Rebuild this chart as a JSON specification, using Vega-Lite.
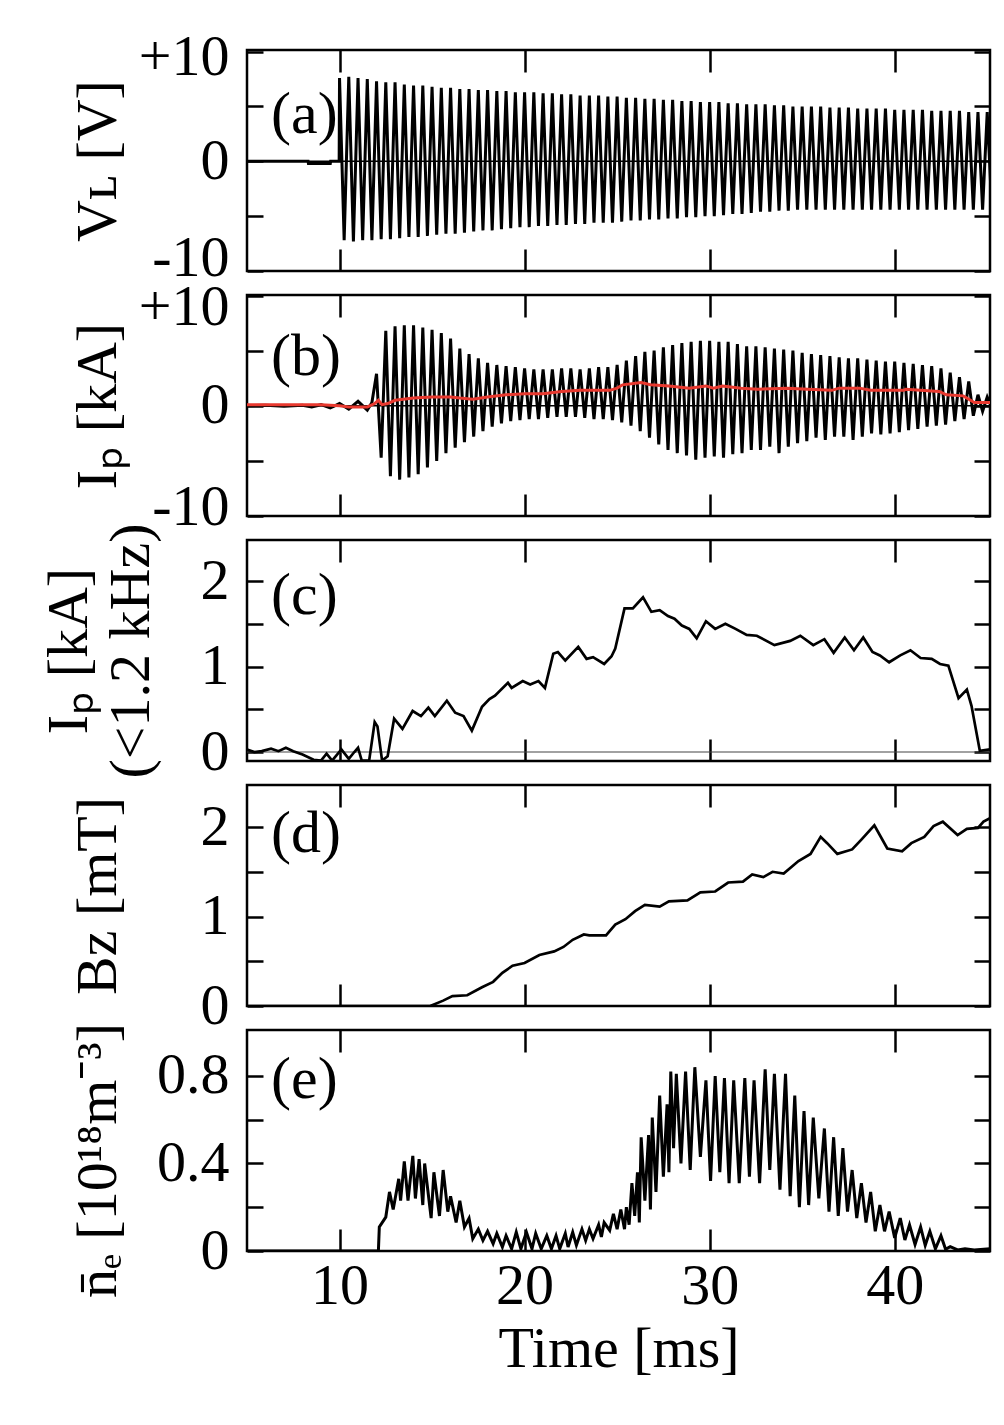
{
  "$schema": "https://vega.github.io/schema/vega-lite/v6.json",
  "background": "white",
  "padding": {"left": 38, "top": 27, "right": 0, "bottom": 0},
  "datasets": {
    "a": [
      {"t":5,"v":0},{"t":8.3,"v":0},{"t":8.32,"v":-0.2},{"t":9.5,"v":-0.2},{"t":9.52,"v":0},{"t":9.98,"v":0},
      {"t":10,"v":7.6},{"t":10.25,"v":-7.2},{"t":10.5,"v":7.7},{"t":10.75,"v":-7.3},{"t":11,"v":7.6},{"t":11.25,"v":-7.2},{"t":11.5,"v":7.5},{"t":11.75,"v":-7.2},
      {"t":12,"v":7.3},{"t":12.25,"v":-7.1},{"t":12.5,"v":7.2},{"t":12.75,"v":-7.1},{"t":13,"v":7.2},{"t":13.25,"v":-7.0},{"t":13.5,"v":7.0},{"t":13.75,"v":-6.9},
      {"t":14,"v":6.9},{"t":14.25,"v":-6.9},{"t":14.5,"v":6.9},{"t":14.75,"v":-6.8},{"t":15,"v":6.8},{"t":15.25,"v":-6.7},{"t":15.5,"v":6.7},{"t":15.75,"v":-6.6},
      {"t":16,"v":6.7},{"t":16.25,"v":-6.6},{"t":16.5,"v":6.6},{"t":16.75,"v":-6.5},{"t":17,"v":6.6},{"t":17.25,"v":-6.4},{"t":17.5,"v":6.5},{"t":17.75,"v":-6.3},
      {"t":18,"v":6.5},{"t":18.25,"v":-6.3},{"t":18.5,"v":6.4},{"t":18.75,"v":-6.2},{"t":19,"v":6.4},{"t":19.25,"v":-6.1},{"t":19.5,"v":6.3},{"t":19.75,"v":-6.0},
      {"t":20,"v":6.3},{"t":20.25,"v":-6.0},{"t":20.5,"v":6.3},{"t":20.75,"v":-5.9},{"t":21,"v":6.2},{"t":21.25,"v":-5.9},{"t":21.5,"v":6.2},{"t":21.75,"v":-5.8},
      {"t":22,"v":6.1},{"t":22.25,"v":-5.8},{"t":22.5,"v":6.1},{"t":22.75,"v":-5.7},{"t":23,"v":6.0},{"t":23.25,"v":-5.7},{"t":23.5,"v":6.0},{"t":23.75,"v":-5.6},
      {"t":24,"v":6.0},{"t":24.25,"v":-5.6},{"t":24.5,"v":5.9},{"t":24.75,"v":-5.6},{"t":25,"v":5.9},{"t":25.25,"v":-5.5},{"t":25.5,"v":5.8},{"t":25.75,"v":-5.4},
      {"t":26,"v":5.8},{"t":26.25,"v":-5.4},{"t":26.5,"v":5.7},{"t":26.75,"v":-5.3},{"t":27,"v":5.7},{"t":27.25,"v":-5.3},{"t":27.5,"v":5.6},{"t":27.75,"v":-5.2},
      {"t":28,"v":5.6},{"t":28.25,"v":-5.2},{"t":28.5,"v":5.5},{"t":28.75,"v":-5.1},{"t":29,"v":5.5},{"t":29.25,"v":-5.1},{"t":29.5,"v":5.4},{"t":29.75,"v":-5.0},
      {"t":30,"v":5.4},{"t":30.25,"v":-5.0},{"t":30.5,"v":5.4},{"t":30.75,"v":-4.9},{"t":31,"v":5.3},{"t":31.25,"v":-4.8},{"t":31.5,"v":5.3},{"t":31.75,"v":-4.8},
      {"t":32,"v":5.2},{"t":32.25,"v":-4.7},{"t":32.5,"v":5.2},{"t":32.75,"v":-4.6},{"t":33,"v":5.2},{"t":33.25,"v":-4.6},{"t":33.5,"v":5.1},{"t":33.75,"v":-4.5},
      {"t":34,"v":5.1},{"t":34.25,"v":-4.5},{"t":34.5,"v":5.0},{"t":34.75,"v":-4.4},{"t":35,"v":5.0},{"t":35.25,"v":-4.4},{"t":35.5,"v":5.0},{"t":35.75,"v":-4.4},
      {"t":36,"v":5.0},{"t":36.25,"v":-4.4},{"t":36.5,"v":4.9},{"t":36.75,"v":-4.4},{"t":37,"v":4.9},{"t":37.25,"v":-4.4},{"t":37.5,"v":4.9},{"t":37.75,"v":-4.4},
      {"t":38,"v":4.8},{"t":38.25,"v":-4.4},{"t":38.5,"v":4.8},{"t":38.75,"v":-4.4},{"t":39,"v":4.8},{"t":39.25,"v":-4.4},{"t":39.5,"v":4.8},{"t":39.75,"v":-4.4},
      {"t":40,"v":4.7},{"t":40.25,"v":-4.4},{"t":40.5,"v":4.7},{"t":40.75,"v":-4.4},{"t":41,"v":4.7},{"t":41.25,"v":-4.4},{"t":41.5,"v":4.7},{"t":41.75,"v":-4.4},
      {"t":42,"v":4.6},{"t":42.25,"v":-4.4},{"t":42.5,"v":4.6},{"t":42.75,"v":-4.4},{"t":43,"v":4.6},{"t":43.25,"v":-4.4},{"t":43.5,"v":4.6},{"t":43.75,"v":-4.4},
      {"t":44,"v":4.5},{"t":44.25,"v":-4.4},{"t":44.5,"v":4.5},{"t":44.75,"v":-4.4},{"t":45,"v":4.5},{"t":45.25,"v":-4.4}
    ],
    "b": [
      {"t":5,"v":0},{"t":6,"v":0.05},{"t":7,"v":-0.05},{"t":8,"v":0.05},{"t":8.5,"v":-0.1},{"t":9,"v":0.1},{"t":9.5,"v":-0.2},{"t":10,"v":0.2},
      {"t":10.5,"v":-0.3},{"t":11,"v":0.4},{"t":11.5,"v":-0.4},{"t":11.75,"v":0.3},
      {"t":12,"v":2.9},{"t":12.25,"v":-4.7},{"t":12.5,"v":6.8},{"t":12.75,"v":-6.4},{"t":13,"v":7.2},{"t":13.25,"v":-6.7},{"t":13.5,"v":7.3},{"t":13.75,"v":-6.5},
      {"t":14,"v":7.3},{"t":14.25,"v":-6.2},{"t":14.5,"v":7.1},{"t":14.75,"v":-5.6},{"t":15,"v":6.9},{"t":15.25,"v":-5.0},{"t":15.5,"v":6.6},{"t":15.75,"v":-4.3},
      {"t":16,"v":6.1},{"t":16.25,"v":-3.8},{"t":16.5,"v":5.2},{"t":16.75,"v":-3.3},{"t":17,"v":4.7},{"t":17.25,"v":-2.8},{"t":17.5,"v":4.3},{"t":17.75,"v":-2.3},
      {"t":18,"v":3.9},{"t":18.25,"v":-1.9},{"t":18.5,"v":3.7},{"t":18.75,"v":-1.6},{"t":19,"v":3.6},{"t":19.25,"v":-1.4},{"t":19.5,"v":3.5},{"t":19.75,"v":-1.3},
      {"t":20,"v":3.4},{"t":20.25,"v":-1.2},{"t":20.5,"v":3.3},{"t":20.75,"v":-1.2},{"t":21,"v":3.3},{"t":21.25,"v":-1.1},{"t":21.5,"v":3.3},{"t":21.75,"v":-1.0},
      {"t":22,"v":3.4},{"t":22.25,"v":-1.0},{"t":22.5,"v":3.4},{"t":22.75,"v":-1.0},{"t":23,"v":3.3},{"t":23.25,"v":-1.1},{"t":23.5,"v":3.4},{"t":23.75,"v":-1.2},
      {"t":24,"v":3.5},{"t":24.25,"v":-1.2},{"t":24.5,"v":3.5},{"t":24.75,"v":-1.3},{"t":25,"v":3.7},{"t":25.25,"v":-1.5},{"t":25.5,"v":4.1},{"t":25.75,"v":-1.8},
      {"t":26,"v":4.5},{"t":26.25,"v":-2.3},{"t":26.5,"v":4.9},{"t":26.75,"v":-2.9},{"t":27,"v":5.0},{"t":27.25,"v":-3.5},{"t":27.5,"v":5.3},{"t":27.75,"v":-4.0},
      {"t":28,"v":5.5},{"t":28.25,"v":-4.3},{"t":28.5,"v":5.7},{"t":28.75,"v":-4.5},{"t":29,"v":5.8},{"t":29.25,"v":-4.9},{"t":29.5,"v":5.9},{"t":29.75,"v":-4.7},
      {"t":30,"v":5.9},{"t":30.25,"v":-4.6},{"t":30.5,"v":5.8},{"t":30.75,"v":-4.7},{"t":31,"v":5.8},{"t":31.25,"v":-4.4},{"t":31.5,"v":5.6},{"t":31.75,"v":-4.3},
      {"t":32,"v":5.4},{"t":32.25,"v":-4.0},{"t":32.5,"v":5.4},{"t":32.75,"v":-4.0},{"t":33,"v":5.3},{"t":33.25,"v":-3.7},{"t":33.5,"v":5.2},{"t":33.75,"v":-4.3},
      {"t":34,"v":5.1},{"t":34.25,"v":-3.7},{"t":34.5,"v":5.0},{"t":34.75,"v":-3.4},{"t":35,"v":4.8},{"t":35.25,"v":-3.2},{"t":35.5,"v":4.7},{"t":35.75,"v":-2.9},
      {"t":36,"v":4.6},{"t":36.25,"v":-3.1},{"t":36.5,"v":4.5},{"t":36.75,"v":-2.8},{"t":37,"v":4.4},{"t":37.25,"v":-2.8},{"t":37.5,"v":4.3},{"t":37.75,"v":-3.1},
      {"t":38,"v":4.3},{"t":38.25,"v":-2.8},{"t":38.5,"v":4.2},{"t":38.75,"v":-2.5},{"t":39,"v":4.1},{"t":39.25,"v":-2.6},{"t":39.5,"v":4.0},{"t":39.75,"v":-2.5},
      {"t":40,"v":4.0},{"t":40.25,"v":-2.4},{"t":40.5,"v":3.9},{"t":40.75,"v":-2.2},{"t":41,"v":3.8},{"t":41.25,"v":-2.1},{"t":41.5,"v":3.7},{"t":41.75,"v":-1.9},
      {"t":42,"v":3.6},{"t":42.25,"v":-1.8},{"t":42.5,"v":3.4},{"t":42.75,"v":-1.7},{"t":43,"v":3.0},{"t":43.25,"v":-1.4},{"t":43.5,"v":2.6},{"t":43.75,"v":-1.2},
      {"t":44,"v":2.2},{"t":44.25,"v":-0.9},{"t":44.5,"v":1.0},{"t":44.75,"v":-0.5},{"t":45,"v":0.8},{"t":45.15,"v":0.2}
    ],
    "br": [
      {"t":5,"v":0.1},{"t":9,"v":0.1},{"t":10,"v":0.0},{"t":10.5,"v":-0.1},{"t":11.5,"v":-0.1},{"t":11.9,"v":0.2},{"t":12.1,"v":0.5},{"t":12.3,"v":0.1},
      {"t":12.6,"v":0.2},{"t":13,"v":0.5},{"t":14,"v":0.7},{"t":15,"v":0.8},{"t":16,"v":0.8},{"t":16.5,"v":0.7},{"t":17.2,"v":0.6},{"t":18,"v":0.8},
      {"t":19,"v":1.0},{"t":20,"v":1.1},{"t":21,"v":1.1},{"t":22,"v":1.3},{"t":23,"v":1.4},{"t":24,"v":1.4},{"t":24.6,"v":1.4},{"t":25,"v":1.6},
      {"t":25.3,"v":1.9},{"t":26.3,"v":2.1},{"t":26.8,"v":1.9},{"t":27.8,"v":1.8},{"t":28.9,"v":1.6},{"t":29.8,"v":1.8},{"t":30.2,"v":1.6},{"t":30.7,"v":1.8},
      {"t":31.7,"v":1.6},{"t":32.6,"v":1.5},{"t":34.2,"v":1.6},{"t":35.3,"v":1.5},{"t":36.6,"v":1.4},{"t":37,"v":1.6},{"t":38.1,"v":1.6},{"t":38.7,"v":1.4},
      {"t":40.5,"v":1.4},{"t":40.6,"v":1.5},{"t":42.4,"v":1.3},{"t":42.8,"v":1.0},{"t":43.7,"v":0.9},{"t":44.1,"v":0.5},{"t":44.3,"v":0.3},{"t":45.15,"v":0.3}
    ],
    "c": [
      {"t":5,"v":0.03},{"t":5.4,"v":0.0},{"t":5.8,"v":0.01},{"t":6.3,"v":0.04},{"t":6.7,"v":0.01},{"t":7.1,"v":0.05},{"t":7.5,"v":0.01},{"t":8,"v":-0.03},
      {"t":8.6,"v":-0.09},{"t":9,"v":-0.1},{"t":9.3,"v":-0.02},{"t":9.6,"v":-0.1},{"t":10.1,"v":0.03},{"t":10.5,"v":-0.08},{"t":10.8,"v":0.0},{"t":11,"v":0.05},
      {"t":11.2,"v":-0.1},{"t":11.6,"v":-0.1},{"t":11.9,"v":0.35},{"t":12.05,"v":0.3},{"t":12.3,"v":-0.1},{"t":12.6,"v":-0.05},{"t":12.95,"v":0.39},{"t":13.4,"v":0.27},
      {"t":13.95,"v":0.48},{"t":14.4,"v":0.42},{"t":14.8,"v":0.52},{"t":15.15,"v":0.42},{"t":15.8,"v":0.6},{"t":16.25,"v":0.46},{"t":16.7,"v":0.42},{"t":17.15,"v":0.25},
      {"t":17.7,"v":0.53},{"t":18.1,"v":0.62},{"t":18.4,"v":0.66},{"t":19.1,"v":0.81},{"t":19.3,"v":0.75},{"t":19.9,"v":0.83},{"t":20.3,"v":0.79},{"t":20.75,"v":0.83},
      {"t":21.1,"v":0.75},{"t":21.55,"v":1.15},{"t":21.8,"v":1.17},{"t":22.2,"v":1.07},{"t":22.9,"v":1.23},{"t":23.35,"v":1.09},{"t":23.7,"v":1.11},{"t":24.3,"v":1.03},
      {"t":24.7,"v":1.12},{"t":24.9,"v":1.21},{"t":25.4,"v":1.68},{"t":25.85,"v":1.68},{"t":26.4,"v":1.81},{"t":26.85,"v":1.64},{"t":27.3,"v":1.66},{"t":27.75,"v":1.59},
      {"t":28.1,"v":1.56},{"t":28.5,"v":1.48},{"t":28.9,"v":1.44},{"t":29.3,"v":1.33},{"t":29.8,"v":1.53},{"t":30.3,"v":1.44},{"t":30.85,"v":1.5},{"t":31.4,"v":1.44},
      {"t":32,"v":1.37},{"t":32.55,"v":1.36},{"t":33.5,"v":1.25},{"t":34.35,"v":1.3},{"t":34.9,"v":1.36},{"t":35.6,"v":1.25},{"t":36.2,"v":1.32},{"t":36.7,"v":1.16},
      {"t":37.3,"v":1.34},{"t":37.8,"v":1.19},{"t":38.3,"v":1.34},{"t":38.8,"v":1.17},{"t":39.2,"v":1.13},{"t":39.7,"v":1.05},{"t":40.3,"v":1.13},{"t":40.85,"v":1.19},
      {"t":41.4,"v":1.1},{"t":42,"v":1.09},{"t":42.45,"v":1.03},{"t":42.9,"v":1.01},{"t":43.45,"v":0.63},{"t":43.9,"v":0.73},{"t":44.15,"v":0.54},{"t":44.6,"v":0.015},
      {"t":45.15,"v":0.03}
    ],
    "d": [
      {"t":5,"v":0},{"t":14.9,"v":0},{"t":15.6,"v":0.06},{"t":16.1,"v":0.11},{"t":16.9,"v":0.12},{"t":17.7,"v":0.21},{"t":18.3,"v":0.27},{"t":18.8,"v":0.37},
      {"t":19.35,"v":0.45},{"t":20,"v":0.48},{"t":20.8,"v":0.57},{"t":21.6,"v":0.61},{"t":22.1,"v":0.66},{"t":22.6,"v":0.74},{"t":23.2,"v":0.8},{"t":23.5,"v":0.79},
      {"t":24.4,"v":0.79},{"t":24.9,"v":0.91},{"t":25.45,"v":0.97},{"t":25.97,"v":1.06},{"t":26.5,"v":1.13},{"t":27.3,"v":1.11},{"t":27.8,"v":1.17},{"t":28.8,"v":1.18},
      {"t":29.5,"v":1.27},{"t":30.3,"v":1.28},{"t":31,"v":1.38},{"t":31.8,"v":1.39},{"t":32.3,"v":1.47},{"t":32.9,"v":1.44},{"t":33.4,"v":1.5},{"t":34,"v":1.48},
      {"t":34.8,"v":1.62},{"t":35.45,"v":1.7},{"t":36,"v":1.89},{"t":36.35,"v":1.82},{"t":36.9,"v":1.7},{"t":37.7,"v":1.75},{"t":38.2,"v":1.86},{"t":38.9,"v":2.02},
      {"t":39.6,"v":1.76},{"t":40.4,"v":1.73},{"t":40.9,"v":1.82},{"t":41.6,"v":1.89},{"t":42.1,"v":2.01},{"t":42.6,"v":2.06},{"t":43.4,"v":1.91},{"t":43.9,"v":1.98},
      {"t":44.5,"v":1.99},{"t":44.8,"v":2.06},{"t":45.15,"v":2.1}
    ],
    "e": [
      {"t":5,"v":0},{"t":12.1,"v":0},{"t":12.15,"v":0.11},{"t":12.5,"v":0.155},{"t":12.7,"v":0.27},{"t":12.9,"v":0.19},{"t":13.2,"v":0.33},{"t":13.3,"v":0.23},
      {"t":13.5,"v":0.41},{"t":13.7,"v":0.23},{"t":13.96,"v":0.435},{"t":14.1,"v":0.24},{"t":14.3,"v":0.42},{"t":14.5,"v":0.21},{"t":14.6,"v":0.4},{"t":14.95,"v":0.15},
      {"t":15.1,"v":0.36},{"t":15.4,"v":0.16},{"t":15.6,"v":0.37},{"t":15.85,"v":0.18},{"t":16,"v":0.25},{"t":16.3,"v":0.13},{"t":16.5,"v":0.23},{"t":16.75,"v":0.11},
      {"t":17,"v":0.15},{"t":17.2,"v":0.056},{"t":17.5,"v":0.1},{"t":17.75,"v":0.048},{"t":18,"v":0.09},{"t":18.3,"v":0.033},{"t":18.5,"v":0.08},{"t":18.8,"v":0.018},
      {"t":19,"v":0.07},{"t":19.3,"v":0.01},{"t":19.55,"v":0.086},{"t":19.8,"v":0.01},{"t":20.1,"v":0.086},{"t":20.4,"v":0.01},{"t":20.6,"v":0.08},{"t":20.9,"v":0.01},
      {"t":21.2,"v":0.07},{"t":21.45,"v":0.01},{"t":21.7,"v":0.07},{"t":21.9,"v":0.01},{"t":22.2,"v":0.08},{"t":22.35,"v":0.018},{"t":22.6,"v":0.086},{"t":22.8,"v":0.026},
      {"t":23.1,"v":0.1},{"t":23.3,"v":0.048},{"t":23.5,"v":0.1},{"t":23.7,"v":0.056},{"t":24,"v":0.12},{"t":24.15,"v":0.064},{"t":24.3,"v":0.13},{"t":24.6,"v":0.094},
      {"t":24.8,"v":0.17},{"t":25,"v":0.1},{"t":25.2,"v":0.19},{"t":25.4,"v":0.1},{"t":25.5,"v":0.2},{"t":25.65,"v":0.12},{"t":25.8,"v":0.31},{"t":25.95,"v":0.16},
      {"t":26.1,"v":0.36},{"t":26.2,"v":0.13},{"t":26.3,"v":0.52},{"t":26.5,"v":0.23},{"t":26.7,"v":0.53},{"t":26.8,"v":0.19},{"t":26.9,"v":0.61},{"t":27.1,"v":0.27},
      {"t":27.3,"v":0.71},{"t":27.5,"v":0.34},{"t":27.7,"v":0.67},{"t":27.8,"v":0.36},{"t":27.9,"v":0.82},{"t":28.05,"v":0.47},{"t":28.2,"v":0.81},{"t":28.45,"v":0.4},
      {"t":28.7,"v":0.82},{"t":28.95,"v":0.37},{"t":29.2,"v":0.84},{"t":29.5,"v":0.43},{"t":29.8,"v":0.78},{"t":30.05,"v":0.32},{"t":30.3,"v":0.8},{"t":30.55,"v":0.36},
      {"t":30.8,"v":0.79},{"t":31.05,"v":0.31},{"t":31.3,"v":0.78},{"t":31.6,"v":0.31},{"t":31.9,"v":0.79},{"t":32.15,"v":0.34},{"t":32.4,"v":0.78},{"t":32.7,"v":0.31},
      {"t":33,"v":0.83},{"t":33.25,"v":0.37},{"t":33.5,"v":0.81},{"t":33.8,"v":0.28},{"t":34.1,"v":0.81},{"t":34.35,"v":0.25},{"t":34.6,"v":0.71},{"t":34.85,"v":0.2},
      {"t":35.1,"v":0.64},{"t":35.35,"v":0.21},{"t":35.6,"v":0.61},{"t":35.9,"v":0.24},{"t":36.2,"v":0.56},{"t":36.45,"v":0.18},{"t":36.7,"v":0.52},{"t":36.95,"v":0.16},
      {"t":37.2,"v":0.47},{"t":37.45,"v":0.18},{"t":37.7,"v":0.37},{"t":37.95,"v":0.15},{"t":38.2,"v":0.31},{"t":38.45,"v":0.13},{"t":38.7,"v":0.27},{"t":38.95,"v":0.09},
      {"t":39.2,"v":0.21},{"t":39.45,"v":0.09},{"t":39.7,"v":0.18},{"t":40,"v":0.06},{"t":40.3,"v":0.15},{"t":40.55,"v":0.05},{"t":40.8,"v":0.12},{"t":41.1,"v":0.03},
      {"t":41.4,"v":0.11},{"t":41.65,"v":0.026},{"t":41.9,"v":0.09},{"t":42.2,"v":0.01},{"t":42.5,"v":0.07},{"t":42.75,"v":0.008},{"t":43,"v":0.02},{"t":43.4,"v":0.005},
      {"t":43.8,"v":0.01},{"t":44.3,"v":0.005},{"t":45.15,"v":0.01}
    ]
  },
  "vconcat": [
    {
      "width": 743, "height": 221,
      "layer": [
        {"data": {"name": "a"}, "mark": {"type": "line", "color": "black", "strokeWidth": 3, "clip": true},
         "encoding": {
           "x": {"field": "t", "type": "quantitative", "scale": {"domain": [5, 45.15], "nice": false, "zero": false},
                 "axis": {"orient": "bottom", "values": [10, 20, 30, 40], "labels": false, "title": null, "tickSize": -22}},
           "y": {"field": "v", "type": "quantitative", "scale": {"domain": [-10, 10.15], "nice": false, "zero": false},
                 "axis": {"orient": "left", "values": [-10, -5, 0, 5, 10], "tickSize": -16, "labelPadding": 34,
                          "labelOffset": {"condition": [{"test": "datum.value == 10", "value": 6}, {"test": "datum.value == -10", "value": -13}], "value": 0},
                          "labelExpr": "datum.value == 10 ? '+10' : datum.value == -10 ? '-10' : datum.value == 0 ? '0' : ''",
                          "title": "Vʟ [V]", "titleX": -132, "titleBaseline": "alphabetic"}}}},
        {"data": {"values": [{}]}, "mark": {"type": "rule", "color": "black", "strokeWidth": 1.5},
         "encoding": {"y": {"datum": 0, "type": "quantitative", "scale": {"domain": [-10, 10.15], "nice": false, "zero": false}, "axis": null}}},
        {"data": {"values": [{}]}, "mark": {"type": "text", "font": "Liberation Serif", "fontSize": 60, "align": "left", "baseline": "middle", "color": "black"},
         "encoding": {
           "x": {"datum": 6.3, "type": "quantitative", "scale": {"domain": [5, 45.15], "nice": false, "zero": false}, "axis": null},
           "y": {"datum": 4.2, "type": "quantitative", "scale": {"domain": [-10, 10.15], "nice": false, "zero": false}, "axis": null},
           "text": {"value": "(a)"}}},
        {"data": {"name": "a"}, "mark": {"type": "point", "opacity": 0},
         "encoding": {
           "x": {"field": "t", "type": "quantitative", "scale": {"domain": [5, 45.15], "nice": false, "zero": false},
                 "axis": {"orient": "top", "values": [10, 20, 30, 40], "labels": false, "title": null, "tickSize": -22}},
           "y": {"field": "v", "type": "quantitative", "scale": {"domain": [-10, 10.15], "nice": false, "zero": false},
                 "axis": {"orient": "right", "values": [-10, -5, 0, 5, 10], "labels": false, "title": null, "tickSize": -16}}}}
      ],
      "resolve": {"axis": {"x": "independent", "y": "independent"}}
    },
    {
      "width": 743, "height": 221,
      "layer": [
        {"data": {"name": "b"}, "mark": {"type": "line", "color": "black", "strokeWidth": 3, "clip": true},
         "encoding": {
           "x": {"field": "t", "type": "quantitative", "scale": {"domain": [5, 45.15], "nice": false, "zero": false},
                 "axis": {"orient": "bottom", "values": [10, 20, 30, 40], "labels": false, "title": null, "tickSize": -22}},
           "y": {"field": "v", "type": "quantitative", "scale": {"domain": [-10, 10.05], "nice": false, "zero": false},
                 "axis": {"orient": "left", "values": [-10, -5, 0, 5, 10], "tickSize": -16, "labelPadding": 34,
                          "labelOffset": {"condition": [{"test": "datum.value == 10", "value": 12}, {"test": "datum.value == -10", "value": -9}], "value": 0},
                          "labelExpr": "datum.value == 10 ? '+10' : datum.value == -10 ? '-10' : datum.value == 0 ? '0' : ''",
                          "title": "Iₚ [kA]", "titleX": -132, "titleBaseline": "alphabetic"}}}},
        {"data": {"values": [{}]}, "mark": {"type": "rule", "color": "black", "strokeWidth": 1.5},
         "encoding": {"y": {"datum": 0, "type": "quantitative", "scale": {"domain": [-10, 10.05], "nice": false, "zero": false}, "axis": null}}},
        {"data": {"name": "br"}, "mark": {"type": "line", "color": "#e8392f", "strokeWidth": 3, "clip": true},
         "encoding": {
           "x": {"field": "t", "type": "quantitative", "scale": {"domain": [5, 45.15], "nice": false, "zero": false}, "axis": null},
           "y": {"field": "v", "type": "quantitative", "scale": {"domain": [-10, 10.05], "nice": false, "zero": false}, "axis": null}}},
        {"data": {"values": [{}]}, "mark": {"type": "text", "font": "Liberation Serif", "fontSize": 60, "align": "left", "baseline": "middle", "color": "black"},
         "encoding": {
           "x": {"datum": 6.3, "type": "quantitative", "scale": {"domain": [5, 45.15], "nice": false, "zero": false}, "axis": null},
           "y": {"datum": 4.4, "type": "quantitative", "scale": {"domain": [-10, 10.05], "nice": false, "zero": false}, "axis": null},
           "text": {"value": "(b)"}}},
        {"data": {"name": "b"}, "mark": {"type": "point", "opacity": 0},
         "encoding": {
           "x": {"field": "t", "type": "quantitative", "scale": {"domain": [5, 45.15], "nice": false, "zero": false},
                 "axis": {"orient": "top", "values": [10, 20, 30, 40], "labels": false, "title": null, "tickSize": -22}},
           "y": {"field": "v", "type": "quantitative", "scale": {"domain": [-10, 10.05], "nice": false, "zero": false},
                 "axis": {"orient": "right", "values": [-10, -5, 0, 5, 10], "labels": false, "title": null, "tickSize": -16}}}}
      ],
      "resolve": {"axis": {"x": "independent", "y": "independent"}}
    },
    {
      "width": 743, "height": 221,
      "layer": [
        {"data": {"values": [{}]}, "mark": {"type": "rule", "color": "#444444", "strokeWidth": 1.2},
         "encoding": {"y": {"datum": 0, "type": "quantitative", "scale": {"domain": [-0.105, 2.48], "nice": false, "zero": false}, "axis": null}}},
        {"data": {"name": "c"}, "mark": {"type": "line", "color": "black", "strokeWidth": 2.7, "clip": true},
         "encoding": {
           "x": {"field": "t", "type": "quantitative", "scale": {"domain": [5, 45.15], "nice": false, "zero": false},
                 "axis": {"orient": "bottom", "values": [10, 20, 30, 40], "labels": false, "title": null, "tickSize": -22}},
           "y": {"field": "v", "type": "quantitative", "scale": {"domain": [-0.105, 2.48], "nice": false, "zero": false},
                 "axis": {"orient": "left", "values": [0, 0.5, 1, 1.5, 2], "tickSize": -16, "labelPadding": 34,
                          "labelExpr": "datum.value == 0 ? '0' : datum.value == 1 ? '1' : datum.value == 2 ? '2' : ''",
                          "title": ["Iₚ [kA]", "(<1.2 kHz)"], "titleX": -161, "titleLineHeight": 62, "titleBaseline": "alphabetic"}}}},
        {"data": {"values": [{}]}, "mark": {"type": "text", "font": "Liberation Serif", "fontSize": 60, "align": "left", "baseline": "middle", "color": "black"},
         "encoding": {
           "x": {"datum": 6.3, "type": "quantitative", "scale": {"domain": [5, 45.15], "nice": false, "zero": false}, "axis": null},
           "y": {"datum": 1.83, "type": "quantitative", "scale": {"domain": [-0.105, 2.48], "nice": false, "zero": false}, "axis": null},
           "text": {"value": "(c)"}}},
        {"data": {"name": "c"}, "mark": {"type": "point", "opacity": 0},
         "encoding": {
           "x": {"field": "t", "type": "quantitative", "scale": {"domain": [5, 45.15], "nice": false, "zero": false},
                 "axis": {"orient": "top", "values": [10, 20, 30, 40], "labels": false, "title": null, "tickSize": -22}},
           "y": {"field": "v", "type": "quantitative", "scale": {"domain": [-0.105, 2.48], "nice": false, "zero": false},
                 "axis": {"orient": "right", "values": [0, 0.5, 1, 1.5, 2], "labels": false, "title": null, "tickSize": -16}}}}
      ],
      "resolve": {"axis": {"x": "independent", "y": "independent"}}
    },
    {
      "width": 743, "height": 221,
      "layer": [
        {"data": {"name": "d"}, "mark": {"type": "line", "color": "black", "strokeWidth": 2.7, "clip": true},
         "encoding": {
           "x": {"field": "t", "type": "quantitative", "scale": {"domain": [5, 45.15], "nice": false, "zero": false},
                 "axis": {"orient": "bottom", "values": [10, 20, 30, 40], "labels": false, "title": null, "tickSize": -22}},
           "y": {"field": "v", "type": "quantitative", "scale": {"domain": [0, 2.47], "nice": false, "zero": false},
                 "axis": {"orient": "left", "values": [0, 0.5, 1, 1.5, 2], "tickSize": -16, "labelPadding": 34,
                          "labelExpr": "datum.value == 0 ? '0' : datum.value == 1 ? '1' : datum.value == 2 ? '2' : ''",
                          "title": "Bz [mT]", "titleX": -132, "titleBaseline": "alphabetic"}}}},
        {"data": {"values": [{}]}, "mark": {"type": "text", "font": "Liberation Serif", "fontSize": 60, "align": "left", "baseline": "middle", "color": "black"},
         "encoding": {
           "x": {"datum": 6.3, "type": "quantitative", "scale": {"domain": [5, 45.15], "nice": false, "zero": false}, "axis": null},
           "y": {"datum": 1.92, "type": "quantitative", "scale": {"domain": [0, 2.47], "nice": false, "zero": false}, "axis": null},
           "text": {"value": "(d)"}}},
        {"data": {"name": "d"}, "mark": {"type": "point", "opacity": 0},
         "encoding": {
           "x": {"field": "t", "type": "quantitative", "scale": {"domain": [5, 45.15], "nice": false, "zero": false},
                 "axis": {"orient": "top", "values": [10, 20, 30, 40], "labels": false, "title": null, "tickSize": -22}},
           "y": {"field": "v", "type": "quantitative", "scale": {"domain": [0, 2.47], "nice": false, "zero": false},
                 "axis": {"orient": "right", "values": [0, 0.5, 1, 1.5, 2], "labels": false, "title": null, "tickSize": -16}}}}
      ],
      "resolve": {"axis": {"x": "independent", "y": "independent"}}
    },
    {
      "width": 743, "height": 221,
      "layer": [
        {"data": {"name": "e"}, "mark": {"type": "line", "color": "black", "strokeWidth": 3, "clip": true},
         "encoding": {
           "x": {"field": "t", "type": "quantitative", "scale": {"domain": [5, 45.15], "nice": false, "zero": false},
                 "axis": {"orient": "bottom", "values": [10, 20, 30, 40], "tickSize": -22, "labelPadding": 28,
                          "title": "Time [ms]", "titleFontSize": 58, "titlePadding": 5}},
           "y": {"field": "v", "type": "quantitative", "scale": {"domain": [0, 1.01], "nice": false, "zero": false},
                 "axis": {"orient": "left", "values": [0, 0.2, 0.4, 0.6, 0.8], "tickSize": -16, "labelPadding": 34,
                          "labelExpr": "datum.value == 0 ? '0' : datum.value == 0.4 ? '0.4' : datum.value == 0.8 ? '0.8' : ''",
                          "title": "n̄ₑ [10¹⁸m⁻³]", "titleX": -132, "titleY": 130, "titleBaseline": "alphabetic"}}}},
        {"data": {"values": [{}]}, "mark": {"type": "text", "font": "Liberation Serif", "fontSize": 60, "align": "left", "baseline": "middle", "color": "black"},
         "encoding": {
           "x": {"datum": 6.3, "type": "quantitative", "scale": {"domain": [5, 45.15], "nice": false, "zero": false}, "axis": null},
           "y": {"datum": 0.78, "type": "quantitative", "scale": {"domain": [0, 1.01], "nice": false, "zero": false}, "axis": null},
           "text": {"value": "(e)"}}},
        {"data": {"name": "e"}, "mark": {"type": "point", "opacity": 0},
         "encoding": {
           "x": {"field": "t", "type": "quantitative", "scale": {"domain": [5, 45.15], "nice": false, "zero": false},
                 "axis": {"orient": "top", "values": [10, 20, 30, 40], "labels": false, "title": null, "tickSize": -22}},
           "y": {"field": "v", "type": "quantitative", "scale": {"domain": [0, 1.01], "nice": false, "zero": false},
                 "axis": {"orient": "right", "values": [0, 0.2, 0.4, 0.6, 0.8], "labels": false, "title": null, "tickSize": -16}}}}
      ],
      "resolve": {"axis": {"x": "independent", "y": "independent"}}
    }
  ],
  "spacing": 24,
  "bounds": "flush",
  "config": {
    "view": {"stroke": "black", "strokeWidth": 2.5, "fill": "white"},
    "axis": {
      "domain": false, "grid": false, "tickColor": "black", "tickWidth": 2.5, "labelOverlap": false,
      "labelFont": "Liberation Serif", "labelFontSize": 58, "labelColor": "black",
      "titleFont": "Liberation Serif", "titleFontSize": 58, "titleFontWeight": "normal", "titleColor": "black"
    },
    "line": {"strokeJoin": "miter", "strokeCap": "butt"}
  }
}
